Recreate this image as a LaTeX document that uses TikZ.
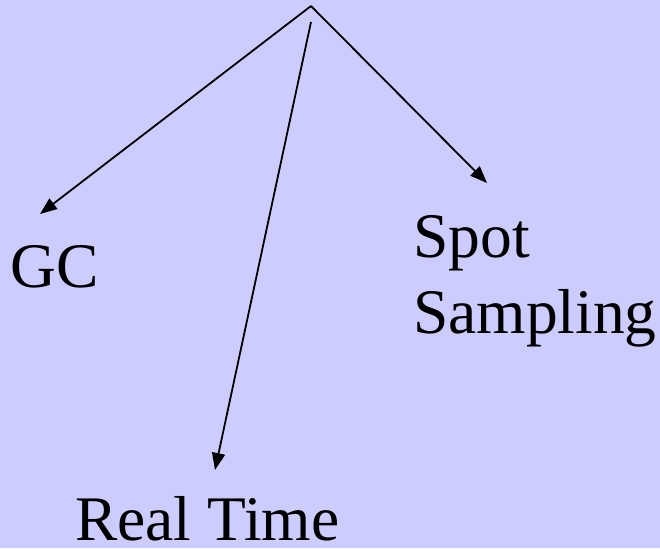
\documentclass[tikz,border=0pt]{standalone}
\usepackage{fontspec}
\setmainfont{Liberation Serif}
\usetikzlibrary{arrows.meta}
\definecolor{bgcol}{RGB}{204,204,255}
\begin{document}
\begin{tikzpicture}[x=1pt,y=-1pt,
  lbl/.style={inner sep=0pt,anchor=base west,font=\fontsize{63.5}{76}\selectfont,align=left},
  conn/.style={line width=1.8pt,-{Triangle[length=17pt,width=13pt]}}]
\fill[bgcol] (0,0) rectangle (660,548);
\useasboundingbox (0,0) rectangle (660,548);
\coordinate (top) at (311,6);
\coordinate (mid) at (311,22);
\coordinate (gcend) at (40,214);
\coordinate (rtend) at (215,470);
\coordinate (spend) at (487,183);
\node[lbl] (gc) at (10,287) {GC};
\node[lbl] (sp) at (413,333) {Spot\\Sampling};
\node[lbl] (rt) at (75,540) {Real Time};
\draw[conn] (top) -- (gcend);
\draw[conn] (top) -- (spend);
\draw[conn] (mid) -- (rtend);
\end{tikzpicture}
\end{document}
